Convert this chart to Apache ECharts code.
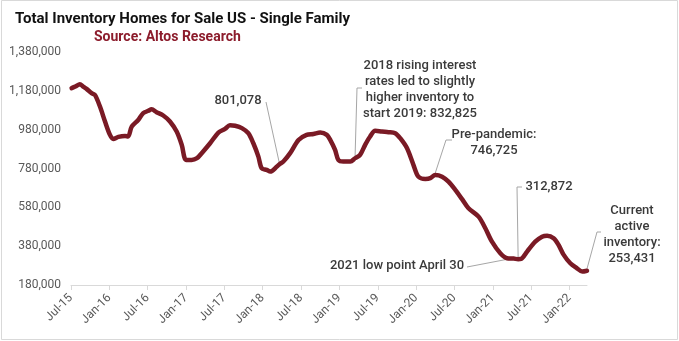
<!DOCTYPE html>
<html>
<head>
<meta charset="utf-8">
<script src="https://cdn.jsdelivr.net/npm/echarts@6/dist/echarts.min.js"></script>
<style>
  html, body { margin: 0; padding: 0; background: #fff; }
  #chart { width: 679px; height: 341px; }
</style>
</head>
<body>
<div id="chart"></div>
<script>
// Weekly-ish readings of single family homes for sale (US), Altos Research
const dates = [
  '2015-07-04','2015-07-22','2015-08-13','2015-08-29','2015-09-14','2015-10-08','2015-10-24','2015-11-17','2015-12-11',
  '2016-01-04','2016-01-20','2016-02-13','2016-03-15','2016-03-30','2016-04-16','2016-05-17','2016-06-10','2016-07-04',
  '2016-07-20','2016-08-13','2016-09-14','2016-10-16','2016-11-17','2016-12-11',
  '2017-01-01','2017-01-28','2017-02-21','2017-03-15','2017-04-24','2017-06-03','2017-07-04','2017-07-28','2017-08-22',
  '2017-09-23','2017-10-24','2017-11-17','2017-12-11','2017-12-27',
  '2018-01-20','2018-02-06','2018-03-08','2018-03-19','2018-04-08','2018-05-10','2018-06-19','2018-07-28','2018-08-30',
  '2018-10-01','2018-11-02','2018-11-19','2018-12-11','2018-12-27',
  '2019-01-20','2019-02-21','2019-03-15','2019-04-08','2019-05-02','2019-05-26','2019-06-19','2019-07-21','2019-08-22',
  '2019-09-23','2019-10-17','2019-11-18','2019-12-19',
  '2020-01-12','2020-02-14','2020-03-08','2020-04-01','2020-05-03','2020-06-03','2020-07-05','2020-08-07','2020-09-07',
  '2020-10-25','2020-11-26','2020-12-28',
  '2021-02-06','2021-03-08','2021-04-09','2021-04-30','2021-05-14','2021-06-12','2021-07-21','2021-08-23','2021-09-16',
  '2021-10-17','2021-11-10','2021-12-04',
  '2022-01-05','2022-02-06','2022-03-01','2022-03-24'
];
const inventory = [
  1194000,1202000,1214000,1202000,1190000,1168000,1159000,1099000,1022000,
  953000,932000,943000,948000,945000,996000,1030000,1065000,1077000,
  1085000,1070000,1053000,1022000,970000,902000,
  824000,824000,833000,859000,910000,965000,984000,1003000,1000000,
  988000,962000,910000,841000,781000,
  773000,764000,790000,801078,816000,859000,927000,953000,958000,
  965000,953000,925000,876000,824000,
  816000,816000,832825,850000,902000,945000,974000,970000,967000,
  962000,936000,885000,799000,
  738000,726000,730000,746725,738000,712000,670000,622000,575000,
  532000,472000,403000,
  343000,318000,316000,312872,314000,352000,403000,429000,434000,
  421000,386000,335000,
  292000,266000,249000,253431
];

// Axis ticks: every six months from Jul-15 to Jan-22
const tickLabels = ['Jul-15','Jan-16','Jul-16','Jan-17','Jul-17','Jan-18','Jul-18',
                    'Jan-19','Jul-19','Jan-20','Jul-20','Jan-21','Jul-21','Jan-22'];
const yTicks = [180000, 380000, 580000, 780000, 980000, 1180000, 1380000];

// Callouts: text, the reading they point at, and where the text block sits
const notes = [
  { lines: ['801,078'], date: '2018-03-19', value: 801078, cx: 238, top: 94, leader: [[266, 102]] },
  { lines: ['2018 rising interest', 'rates led to slightly', 'higher inventory to', 'start 2019: 832,825'],
    date: '2019-03-15', value: 832825, cx: 420, top: 59, leader: [[362, 88], [357, 88]] },
  { lines: ['Pre-pandemic:', '746,725'], date: '2020-04-01', value: 746725, cx: 494, top: 128, leader: [[452, 140], [446, 140]] },
  { lines: ['312,872'], date: '2021-04-30', value: 312872, cx: 549, top: 180, leader: [[522, 187], [517, 187]] },
  { lines: ['2021 low point April 30'], date: '2021-04-30', value: 312872, cx: 397, top: 259, leader: [[467, 267]] },
  { lines: ['Current', 'active', 'inventory:', '253,431'], date: '2022-03-24', value: 253431, cx: 632, top: 204, leader: [[601, 232], [597, 232]] }
];

// months elapsed since 1 Jul 2015
function monthIndex(s) {
  const [y, m, d] = s.split('-').map(Number);
  const dim = new Date(y, m, 0).getDate();
  return (y - 2015) * 12 + (m - 7) + (d - 1) / dim;
}

const points = dates.map((d, i) => [monthIndex(d), inventory[i]]);
const xMax = monthIndex(dates[dates.length - 1]);

const FONT = 'Roboto, "Liberation Sans", sans-serif';
const chart = echarts.init(document.getElementById('chart'), null, { renderer: 'canvas' });

chart.setOption({
  backgroundColor: '#ffffff',
  animation: false,
  title: [
    { text: 'Total Inventory Homes for Sale US - Single Family', left: 10, top: 7,
      textStyle: { fontFamily: FONT, fontSize: 15, fontWeight: 'bold', color: '#111111' } },
    { text: 'Source: Altos Research', left: 89, top: 25,
      textStyle: { fontFamily: FONT, fontSize: 14, fontWeight: 'bold', color: '#8c1c2c' } }
  ],
  grid: { left: 71, right: 92, top: 52, bottom: 56, containLabel: false },
  xAxis: {
    type: 'value', min: 0, max: xMax, interval: 6,
    splitLine: { show: false },
    axisLine: { show: true, lineStyle: { color: '#d9d9d9', width: 1 } },
    axisTick: { show: true, length: 5, lineStyle: { color: '#d9d9d9' } },
    axisLabel: {
      rotate: 45, margin: 11, color: '#595959', fontFamily: FONT, fontSize: 12,
      showMaxLabel: false,
      formatter: v => tickLabels[Math.round(v / 6)] || ''
    }
  },
  yAxis: {
    type: 'value', min: yTicks[0], max: yTicks[yTicks.length - 1], interval: 200000,
    splitLine: { show: false },
    axisLine: { show: false }, axisTick: { show: false },
    axisLabel: {
      margin: 10, color: '#595959', fontFamily: FONT, fontSize: 12,
      formatter: v => v.toLocaleString('en-US')
    }
  },
  series: [{
    type: 'line', data: points, showSymbol: false, smooth: 0.3,
    lineStyle: { color: '#7a1a25', width: 4.5, cap: 'round', join: 'round' }
  }]
});

// Callout texts and leader lines, anchored to the series readings
const gfx = [];
notes.forEach(n => {
  const lh = 16;
  n.lines.forEach((t, i) => {
    gfx.push({
      type: 'text', silent: true,
      style: { text: t, x: n.cx, y: n.top + i * lh, align: 'center', verticalAlign: 'top',
               font: '500 13px ' + FONT, fill: '#3a3a3a' }
    });
  });
  const p = chart.convertToPixel({ seriesIndex: 0 }, [monthIndex(n.date), n.value]);
  const pts = n.leader.concat([[p[0], p[1] - 2]]);
  gfx.push({
    type: 'polyline', silent: true, shape: { points: pts },
    style: { stroke: '#a6a6a6', lineWidth: 1, fill: null }
  });
});
gfx.push({
  type: 'rect', silent: true, shape: { x: 1.5, y: 0.5, width: 676, height: 339 },
  style: { stroke: '#d9d9d9', lineWidth: 1, fill: null }
});
chart.setOption({ graphic: gfx });
</script>
</body>
</html>
